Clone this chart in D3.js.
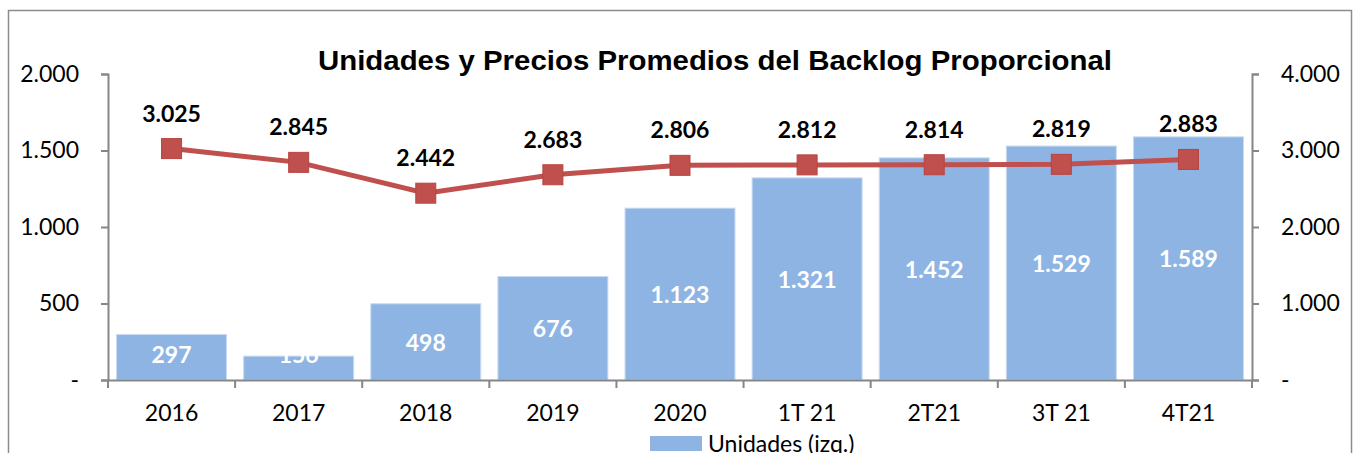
<!DOCTYPE html>
<html>
<head>
<meta charset="utf-8">
<script src="https://cdn.jsdelivr.net/npm/d3@7"></script>
<style>
  body { margin: 0; background: #fff; }
  svg { display: block; font-family: Lato, "Open Sans", sans-serif; }
</style>
</head>
<body>
<div id="chart"></div>
<script>
// data
const categories = ["2016", "2017", "2018", "2019", "2020", "1T 21", "2T21", "3T 21", "4T21"];
const unidades = [297, 156, 498, 676, 1123, 1321, 1452, 1529, 1589];
const precios = [3025, 2845, 2442, 2683, 2806, 2812, 2814, 2819, 2883];
const leftTicks = [0, 500, 1000, 1500, 2000];
const rightTicks = [0, 1000, 2000, 3000, 4000];

const width = 1354, height = 453;
const margin = { top: 74, right: 102, bottom: 73, left: 108 };
const innerWidth = width - margin.left - margin.right;
const innerHeight = height - margin.top - margin.bottom;

const barColor = "#8eb4e3";
const lineColor = "#c0504d";
const axisColor = "#868686";

const es = d3.formatLocale({ decimal: ",", thousands: ".", grouping: [3], currency: ["$", ""] });
const fmt = v => v === 0 ? "-" : es.format(",.0f")(v);

const svg = d3.select("#chart").append("svg")
    .attr("width", width)
    .attr("height", height);

// chart frame
svg.append("rect")
    .attr("x", 8.5).attr("y", 10.5)
    .attr("width", 1343).attr("height", 460)
    .attr("fill", "none")
    .attr("stroke", "#8c8c8c")
    .attr("stroke-width", 1.5);

const innerChart = svg.append("g")
    .attr("transform", `translate(${margin.left}, ${margin.top})`);

// scales
const xScale = d3.scaleBand()
    .domain(categories)
    .range([0, innerWidth])
    .paddingInner(0.135)
    .paddingOuter(0.0675);

const yLeft = d3.scaleLinear().domain([0, 2000]).range([innerHeight, 0]);
const yRight = d3.scaleLinear().domain([0, 4000]).range([innerHeight, 0]);

// bars
innerChart.selectAll(".bar")
    .data(unidades)
    .join("rect")
    .attr("class", "bar")
    .attr("x", (d, i) => xScale(categories[i]))
    .attr("y", d => yLeft(d))
    .attr("width", xScale.bandwidth())
    .attr("height", d => innerHeight - yLeft(d))
    .attr("fill", barColor)
    .attr("stroke", "#c6d9f1")
    .attr("stroke-width", 1);

// bar labels (white, centred in the bar, kept clear of the axis like Excel does)
innerChart.selectAll(".bar-label")
    .data(unidades)
    .join("text")
    .attr("class", "bar-label")
    .attr("x", (d, i) => xScale(categories[i]) + xScale.bandwidth() / 2)
    .attr("y", d => Math.min((yLeft(d) + innerHeight) / 2 + 3, innerHeight - 23))
    .attr("text-anchor", "middle")
    .attr("dominant-baseline", "middle")
    .style("font-size", "23px")
    .style("font-weight", "bold")
    .style("fill", "#fff")
    .text(d => fmt(d));

// axes
const leftAxis = d3.axisLeft(yLeft).tickValues(leftTicks).tickFormat(fmt).tickSize(7).tickPadding(22);
const rightAxis = d3.axisRight(yRight).tickValues(rightTicks).tickFormat(fmt).tickSize(7).tickPadding(22);
const bottomAxis = d3.axisBottom(xScale).tickSize(0).tickPadding(25);

const gx = innerChart.append("g")
    .attr("class", "x-axis")
    .attr("transform", `translate(0, ${innerHeight})`)
    .call(bottomAxis);

// boundary ticks between categories
const bounds = d3.range(categories.length + 1).map(i => i * xScale.step());
gx.selectAll(".bound")
    .data(bounds)
    .join("line")
    .attr("class", "bound")
    .attr("x1", d => d).attr("x2", d => d)
    .attr("y1", 0).attr("y2", 8);

innerChart.append("g").attr("class", "y-axis").call(leftAxis);
innerChart.append("g").attr("class", "y-axis")
    .attr("transform", `translate(${innerWidth}, 0)`)
    .call(rightAxis);

innerChart.selectAll(".domain, .tick line, .bound")
    .attr("stroke", axisColor)
    .attr("stroke-width", 2);
innerChart.selectAll(".x-axis text, .y-axis text")
    .style("font-size", "23px")
    .style("font-family", "Lato, sans-serif")
    .attr("fill", "#000");

// line series
const cx = (d, i) => xScale(categories[i]) + xScale.bandwidth() / 2;
const line = d3.line()
    .x(cx)
    .y(d => yRight(d));

innerChart.append("path")
    .datum(precios)
    .attr("d", line)
    .attr("fill", "none")
    .attr("stroke", lineColor)
    .attr("stroke-width", 5);

innerChart.selectAll(".marker")
    .data(precios)
    .join("rect")
    .attr("class", "marker")
    .attr("x", (d, i) => cx(d, i) - 10)
    .attr("y", d => yRight(d) - 10)
    .attr("width", 20).attr("height", 20)
    .attr("fill", lineColor)
    .attr("stroke", "#b84440")
    .attr("stroke-width", 1);

innerChart.selectAll(".line-label")
    .data(precios)
    .join("text")
    .attr("class", "line-label")
    .attr("x", cx)
    .attr("y", d => yRight(d) - 27)
    .attr("text-anchor", "middle")
    .style("font-size", "23px")
    .style("font-weight", "bold")
    .style("fill", "#000")
    .text(d => fmt(d));

// title
svg.append("text")
    .attr("x", 715)
    .attr("y", 70)
    .attr("text-anchor", "middle")
    .attr("textLength", 794)
    .attr("lengthAdjust", "spacingAndGlyphs")
    .style("font-family", "'Liberation Sans', Arial, sans-serif")
    .style("font-size", "28px")
    .style("font-weight", "bold")
    .text("Unidades y Precios Promedios del Backlog Proporcional");

// legend
const legend = svg.append("g").attr("transform", "translate(650, 436)");
legend.append("rect")
    .attr("width", 52).attr("height", 15)
    .attr("fill", barColor);
legend.append("text")
    .attr("x", 58).attr("y", 16)
    .style("font-size", "23px")
    .text("Unidades (izq.)");
</script>
</body>
</html>
